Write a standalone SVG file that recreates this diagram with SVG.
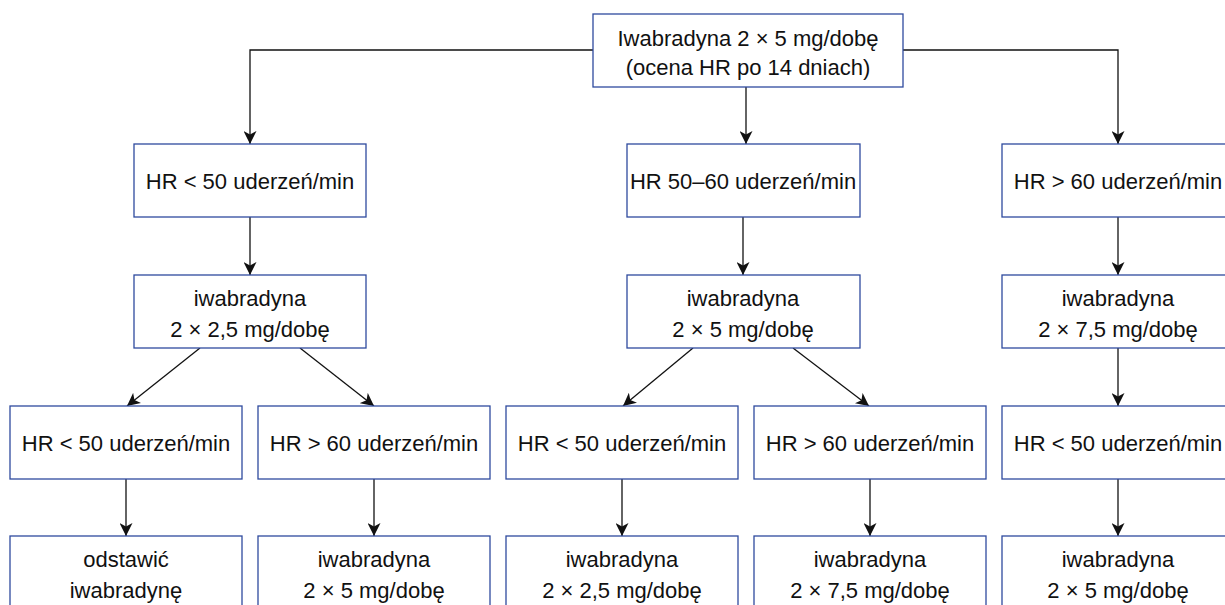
<svg xmlns="http://www.w3.org/2000/svg" width="1225" height="605" viewBox="0 0 1225 605">
<style>
.box{fill:#fff;stroke:#2e4a9e;stroke-width:1.3}
.t{font-family:"Liberation Sans",Arial,sans-serif;font-size:22px;fill:#111;text-anchor:middle}
.c{fill:none;stroke:#111;stroke-width:1.3}
</style>
<defs>
<marker id="ah" viewBox="0 0 13 13" refX="13" refY="6.5" markerWidth="13" markerHeight="13" markerUnits="userSpaceOnUse" orient="auto">
<path d="M0,0 L13,6.5 L0,13 L3.5,6.5 z" fill="#111"/>
</marker>
</defs>
<g id="connectors">
<path class="c" d="M593,50 H250 V144" marker-end="url(#ah)"/>
<path class="c" d="M903,50 H1118 V144" marker-end="url(#ah)"/>
<path class="c" d="M746,87 V144" marker-end="url(#ah)"/>
<path class="c" d="M250,217 V275" marker-end="url(#ah)"/>
<path class="c" d="M743,217 V275" marker-end="url(#ah)"/>
<path class="c" d="M1118,217 V275" marker-end="url(#ah)"/>
<path class="c" d="M200,348 L127,406" marker-end="url(#ah)"/>
<path class="c" d="M300,348 L374,406" marker-end="url(#ah)"/>
<path class="c" d="M693,348 L623,406" marker-end="url(#ah)"/>
<path class="c" d="M793,348 L869,406" marker-end="url(#ah)"/>
<path class="c" d="M1118,348 V406" marker-end="url(#ah)"/>
<path class="c" d="M126,479 V536" marker-end="url(#ah)"/>
<path class="c" d="M374,479 V536" marker-end="url(#ah)"/>
<path class="c" d="M622,479 V536" marker-end="url(#ah)"/>
<path class="c" d="M870,479 V536" marker-end="url(#ah)"/>
<path class="c" d="M1118,479 V536" marker-end="url(#ah)"/>
</g>
<g id="n-top"><rect class="box" x="593" y="14" width="310" height="73"/><text class="t" x="748" y="46">Iwabradyna 2 × 5 mg/dobę</text><text class="t" x="748" y="75">(ocena HR po 14 dniach)</text></g>
<g id="n-l2a"><rect class="box" x="134" y="144" width="232" height="73"/><text class="t" x="250" y="189">HR &lt; 50 uderzeń/min</text></g>
<g id="n-l2b"><rect class="box" x="627" y="144" width="233" height="73"/><text class="t" x="743" y="189">HR 50–60 uderzeń/min</text></g>
<g id="n-l2c"><rect class="box" x="1002" y="144" width="232" height="73"/><text class="t" x="1118" y="189">HR &gt; 60 uderzeń/min</text></g>
<g id="n-l3a"><rect class="box" x="134" y="275" width="232" height="73"/><text class="t" x="250" y="306">iwabradyna</text><text class="t" x="250" y="337">2 × 2,5 mg/dobę</text></g>
<g id="n-l3b"><rect class="box" x="627" y="275" width="233" height="73"/><text class="t" x="743" y="306">iwabradyna</text><text class="t" x="743" y="337">2 × 5 mg/dobę</text></g>
<g id="n-l3c"><rect class="box" x="1002" y="275" width="232" height="73"/><text class="t" x="1118" y="306">iwabradyna</text><text class="t" x="1118" y="337">2 × 7,5 mg/dobę</text></g>
<g id="n-l4a"><rect class="box" x="10" y="406" width="232" height="73"/><text class="t" x="126" y="451">HR &lt; 50 uderzeń/min</text></g>
<g id="n-l4b"><rect class="box" x="258" y="406" width="232" height="73"/><text class="t" x="374" y="451">HR &gt; 60 uderzeń/min</text></g>
<g id="n-l4c"><rect class="box" x="506" y="406" width="232" height="73"/><text class="t" x="622" y="451">HR &lt; 50 uderzeń/min</text></g>
<g id="n-l4d"><rect class="box" x="754" y="406" width="232" height="73"/><text class="t" x="870" y="451">HR &gt; 60 uderzeń/min</text></g>
<g id="n-l4e"><rect class="box" x="1002" y="406" width="232" height="73"/><text class="t" x="1118" y="451">HR &lt; 50 uderzeń/min</text></g>
<g id="n-l5a"><rect class="box" x="10" y="536" width="232" height="73"/><text class="t" x="126" y="567">odstawić</text><text class="t" x="126" y="598">iwabradynę</text></g>
<g id="n-l5b"><rect class="box" x="258" y="536" width="232" height="73"/><text class="t" x="374" y="567">iwabradyna</text><text class="t" x="374" y="598">2 × 5 mg/dobę</text></g>
<g id="n-l5c"><rect class="box" x="506" y="536" width="232" height="73"/><text class="t" x="622" y="567">iwabradyna</text><text class="t" x="622" y="598">2 × 2,5 mg/dobę</text></g>
<g id="n-l5d"><rect class="box" x="754" y="536" width="232" height="73"/><text class="t" x="870" y="567">iwabradyna</text><text class="t" x="870" y="598">2 × 7,5 mg/dobę</text></g>
<g id="n-l5e"><rect class="box" x="1002" y="536" width="232" height="73"/><text class="t" x="1118" y="567">iwabradyna</text><text class="t" x="1118" y="598">2 × 5 mg/dobę</text></g>
</svg>
